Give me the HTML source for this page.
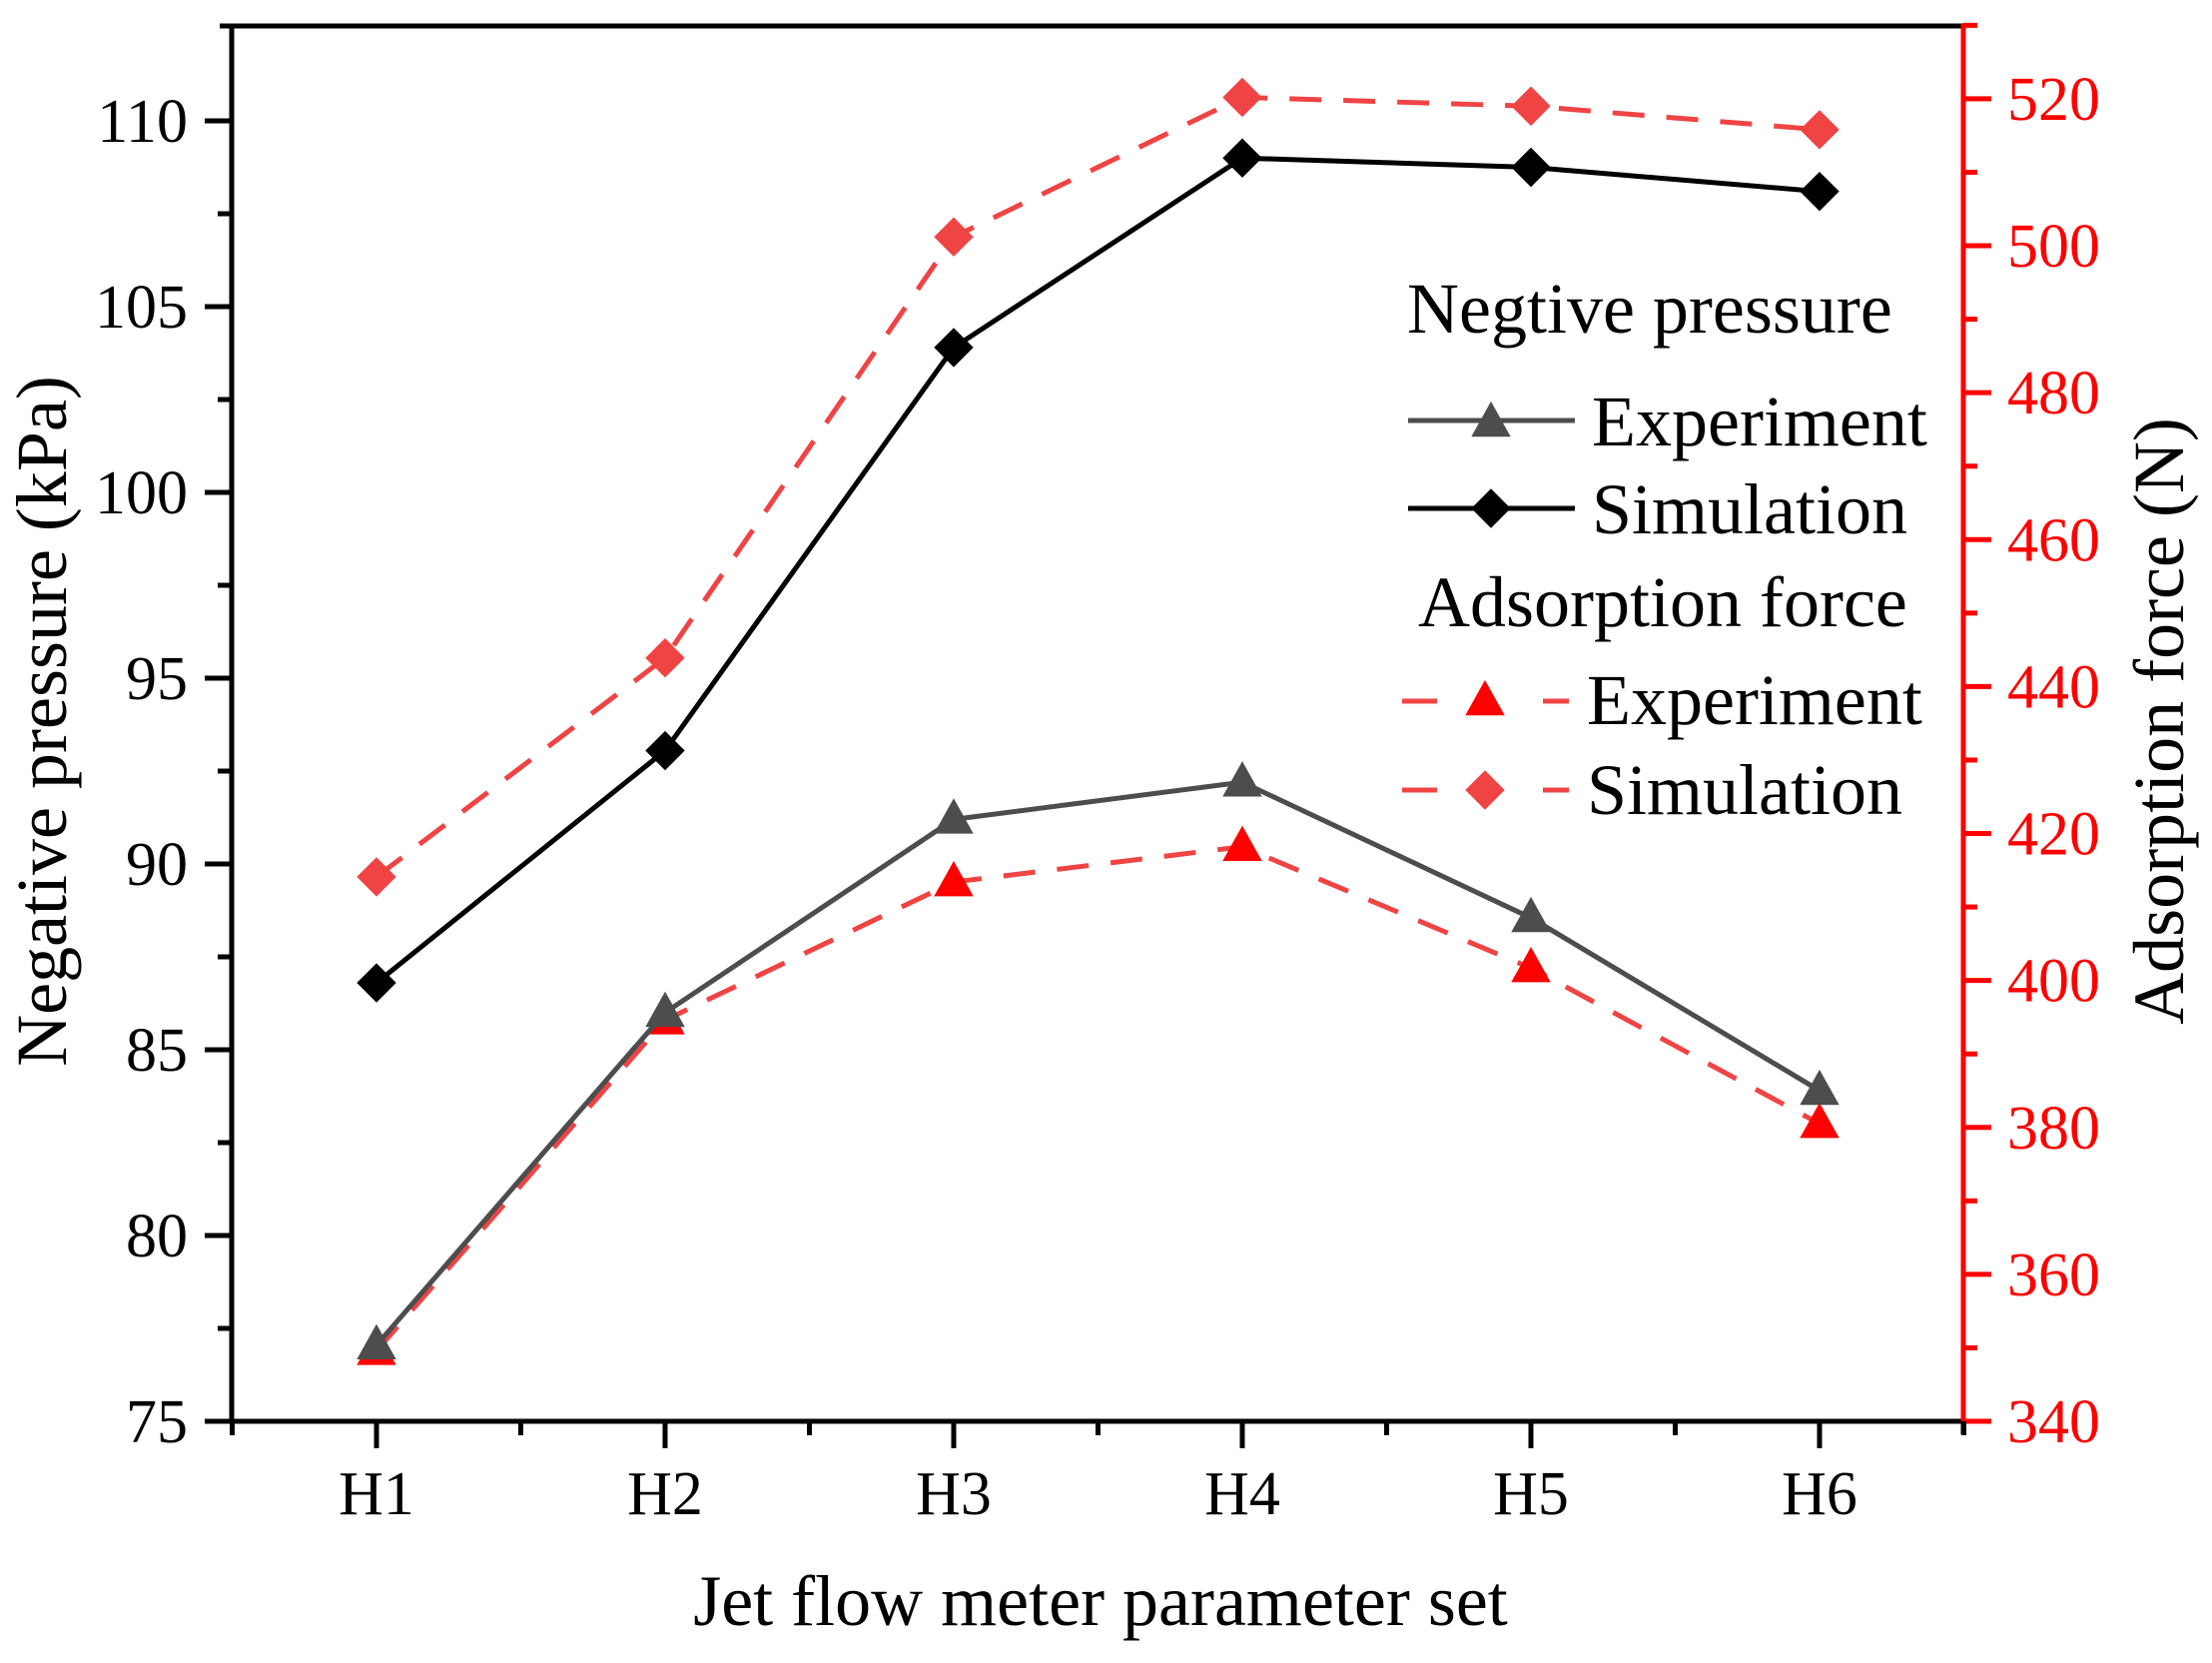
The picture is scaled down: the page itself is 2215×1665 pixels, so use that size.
<!DOCTYPE html>
<html><head><meta charset="utf-8"><style>
html,body{margin:0;padding:0;background:#fff;}
svg{display:block;font-family:"Liberation Serif",serif;}
</style></head><body>
<svg id="chart" width="2215" height="1665" viewBox="0 0 2215 1665" xmlns="http://www.w3.org/2000/svg">
<g id="axes"></g>
<g id="series"></g>
<g id="legend"></g>
</svg>
<script>
const categories = ["H1","H2","H3","H4","H5","H6"];
const negExp = [77.05, 86.0, 91.2, 92.2, 88.55, 83.9];
const negSim = [86.8, 93.05, 103.9, 109.0, 108.75, 108.1];
const adsExp = [349.6, 394.6, 413.4, 418.2, 401.7, 380.5];
const adsSim = [414.1, 443.9, 501.2, 520.2, 519.0, 515.8];
const leftTicks = [75, 80, 85, 90, 95, 100, 105, 110];
const rightTicks = [340, 360, 380, 400, 420, 440, 460, 480, 500, 520];

const NS = "http://www.w3.org/2000/svg";
const X0 = 232, X1 = 1966, Y0 = 1423, YT = 26;
const MS = 34;
const xs = i => 377 + i * 289;
const yL = v => 1423 - (v - 75) * 37.2;
const yR = v => 1423 - (v - 340) * 7.356;
function mk(tag, attrs, parent, txt) {
  const e = document.createElementNS(NS, tag);
  for (const k in attrs) e.setAttribute(k, attrs[k]);
  if (txt !== undefined) e.textContent = txt;
  parent.appendChild(e);
  return e;
}
const axes = document.getElementById('axes');
const series = document.getElementById('series');
const legend = document.getElementById('legend');

let e;
e = mk('line', {x1: 220, y1: YT, x2: X1, y2: YT, stroke: '#000', 'stroke-width': 5}, axes);


e = mk('line', {x1: X0, y1: YT - 2, x2: X0, y2: Y0 + 2, stroke: '#000', 'stroke-width': 5}, axes);


e = mk('line', {x1: X0, y1: Y0, x2: X1, y2: Y0, stroke: '#000', 'stroke-width': 5}, axes);


e = mk('line', {x1: X1, y1: YT - 2, x2: X1, y2: Y0, stroke: '#ff0000', 'stroke-width': 5}, axes);


e = mk('line', {x1: X1, y1: Y0, x2: X1, y2: Y0 + 13, stroke: '#000', 'stroke-width': 5}, axes);



leftTicks.forEach(v => {
  const y = yL(v);
  let t = mk('line', {x1: X0 - 27, y1: y, x2: X0, y2: y, stroke: '#000', 'stroke-width': 5}, axes);
  
  
  t = mk('text', {x: X0 - 44, y: y + 21, 'text-anchor': 'end', 'font-size': 62, fill: '#000'}, axes, String(v));
  
  
  if (v < 110) {
    const m = mk('line', {x1: X0 - 14, y1: yL(v + 2.5), x2: X0, y2: yL(v + 2.5), stroke: '#000', 'stroke-width': 5}, axes);
    
    
  }
});
rightTicks.forEach(v => {
  const y = yR(v);
  let t = mk('line', {x1: X1, y1: y, x2: X1 + 28, y2: y, stroke: '#ff0000', 'stroke-width': 5}, axes);
  
  
  t = mk('text', {x: X1 + 44, y: y + 21, 'text-anchor': 'start', 'font-size': 62, fill: '#ff0000'}, axes, String(v));
  
  
  const m = mk('line', {x1: X1, y1: yR(v + 10), x2: X1 + 14, y2: yR(v + 10), stroke: '#ff0000', 'stroke-width': 5}, axes);
  
  
});
categories.forEach((c, i) => {
  const x = xs(i);
  let t = mk('line', {x1: x, y1: Y0, x2: x, y2: Y0 + 27, stroke: '#000', 'stroke-width': 5}, axes);
  
  
  t = mk('text', {x: x, y: 1516, 'text-anchor': 'middle', 'font-size': 62, fill: '#000'}, axes, c);
  
  
});
for (let i = 0; i <= 6; i++) {
  const x = xs(i) - 144.5;
  const m = mk('line', {x1: x, y1: Y0, x2: x, y2: Y0 + 14, stroke: '#000', 'stroke-width': 5}, axes);
  
  
}
e = mk('text', {x: 1102, y: 1627, 'text-anchor': 'middle', 'font-size': 72, fill: '#000'}, axes, 'Jet flow meter parameter set');


e = mk('text', {x: 0, y: 0, 'text-anchor': 'middle', 'font-size': 72, fill: '#000', transform: 'translate(66,722) rotate(-90)'}, axes, 'Negative pressure (kPa)');


e = mk('text', {x: 0, y: 0, 'text-anchor': 'middle', 'font-size': 72, fill: '#000', transform: 'translate(2186,722) rotate(-90)'}, axes, 'Adsorption force (N)');



function tri(x, y, s, fill, parent) {
  return mk('polygon', {points: `${x},${y - s * 0.62} ${x - s * 0.58},${y + s * 0.42} ${x + s * 0.58},${y + s * 0.42}`, fill: fill}, parent);
}
function dia(x, y, s, fill, parent) {
  return mk('polygon', {points: `${x},${y - s * 0.58} ${x + s * 0.58},${y} ${x},${y + s * 0.58} ${x - s * 0.58},${y}`, fill: fill}, parent);
}
function drawSeries(vals, scale, color, dash, marker, mcolor, name) {
  const pts = vals.map((v, i) => xs(i) + ',' + scale(v)).join(' ');
  const attrs = {points: pts, fill: 'none', stroke: color, 'stroke-width': 5, 'stroke-linejoin': 'round'};
  if (dash) attrs['stroke-dasharray'] = dash;
  const l = mk('polyline', attrs, series);
  
  
  vals.forEach((v, i) => {
    const m = marker(xs(i), scale(v), MS, mcolor, series);
    
    
  });
}
drawSeries(adsSim, yR, '#f04444', '32,22', dia, '#f04444', 'adsorption-simulation');
drawSeries(adsExp, yR, '#f04444', '32,22', tri, '#ff0000', 'adsorption-experiment');
drawSeries(negExp, yL, '#4d4d4d', null, tri, '#4d4d4d', 'pressure-experiment');
drawSeries(negSim, yL, '#000', null, dia, '#000', 'pressure-simulation');

e = mk('text', {x: 1409, y: 333, 'font-size': 72, fill: '#000'}, legend, 'Negtive pressure');


e = mk('line', {x1: 1410, y1: 421, x2: 1577, y2: 421, stroke: '#4d4d4d', 'stroke-width': 5}, legend);


e = tri(1493, 423, MS, '#4d4d4d', legend);


e = mk('text', {x: 1594, y: 446, 'font-size': 72, fill: '#000'}, legend, 'Experiment');


e = mk('line', {x1: 1410, y1: 509, x2: 1577, y2: 509, stroke: '#000', 'stroke-width': 5}, legend);


e = dia(1493, 509, MS, '#000', legend);


e = mk('text', {x: 1594, y: 534, 'font-size': 72, fill: '#000'}, legend, 'Simulation');


e = mk('text', {x: 1420, y: 627, 'font-size': 72, fill: '#000'}, legend, 'Adsorption force');


[[702, 'experiment', tri, '#ff0000', 'Experiment', 725], [791, 'simulation', dia, '#f04444', 'Simulation', 815]].forEach(r => {
  let a = mk('line', {x1: 1404, y1: r[0], x2: 1439, y2: r[0], stroke: '#f04444', 'stroke-width': 5}, legend);
  
  
  a = mk('line', {x1: 1545, y1: r[0], x2: 1571, y2: r[0], stroke: '#f04444', 'stroke-width': 5}, legend);
  
  
  a = r[2](1487, r[0], MS, r[3], legend);
  
  
  a = mk('text', {x: 1589, y: r[5], 'font-size': 72, fill: '#000'}, legend, r[4]);
  
  
});
</script>
</body></html>
